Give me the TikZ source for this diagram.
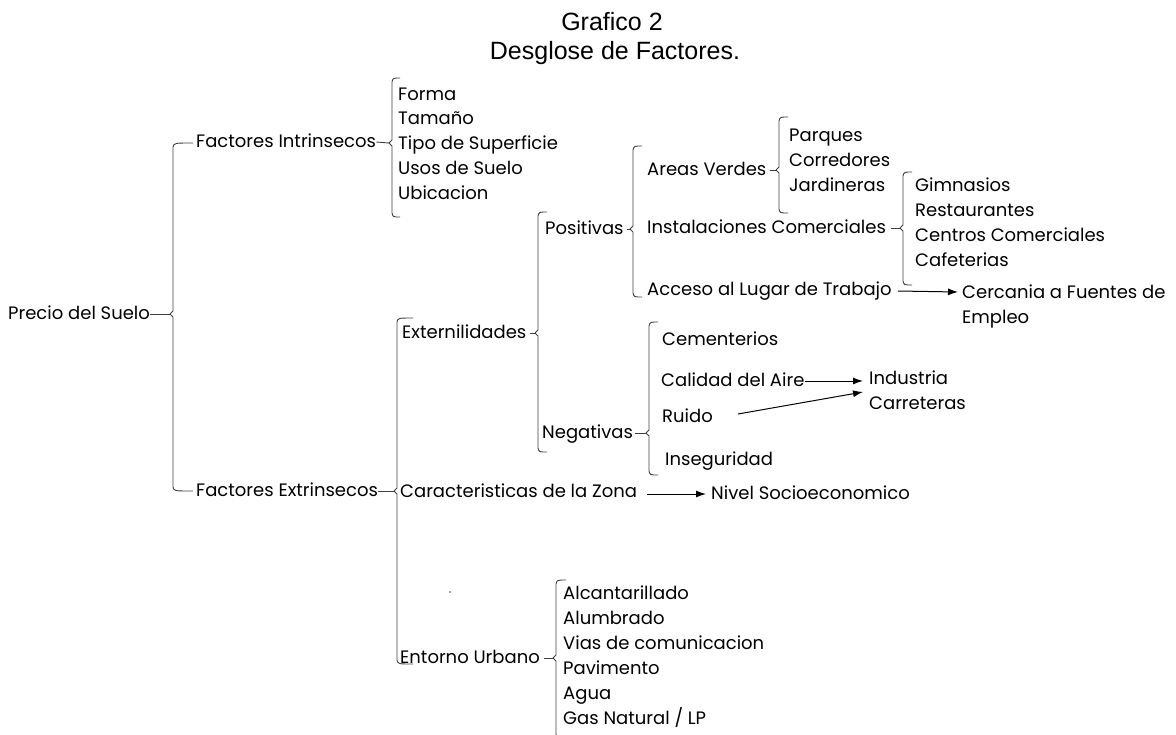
\documentclass[tikz,border=0pt]{standalone}
\usepackage{fontspec}
\setmainfont{Poppins}
\newfontfamily\titlefont{Liberation Sans}
\usetikzlibrary{arrows.meta}
\tikzset{
  lbl/.style={anchor=west, inner sep=0pt, text height=14pt, text depth=4pt, font=\fontsize{18}{22}\selectfont, text=black},
  ttl/.style={inner sep=0pt, font=\titlefont\fontsize{25}{28}\selectfont, text height=18pt, text depth=0pt, anchor=base},
  brk/.style={draw=black!75, line width=0.9pt, line join=round},
  conn/.style={draw=black!75, line width=0.9pt},
  arr/.style={draw=black, line width=1pt, -{Latex[length=10pt,width=7pt]}}
}
% brace: #1 name, #2 x, #3 top, #4 cusp, #5 bottom, #6 tick length
\newcommand{\mybrk}[6]{%
  \draw[brk] ({#2+#6},#3) .. controls ({#2+1},#3) .. ({#2},{#3+4}) -- ({#2},{#4-3}) -- ({#2-3},{#4}) -- ({#2},{#4+3}) -- ({#2},{#5-4}) .. controls ({#2+1},#5) .. ({#2+#6},#5);
  \coordinate (#1) at ({#2-3},{#4});
}
\begin{document}
\begin{tikzpicture}[x=1pt,y=-1pt]
\useasboundingbox (0,0) rectangle (1176,734);
% title
\node[ttl] (t1) at (612,30) {Grafico 2};
\node[ttl] (t2) at (615,59) {Desglose de Factores.};
% level 0/1
\node[lbl] (prec) at (8,314) {Precio del Suelo};
\node[lbl] (fi) at (196,142) {Factores Intrinsecos};
\node[lbl] (fe) at (196,491) {Factores Extrinsecos};
\mybrk{b0}{173}{143}{314}{491}{20}
\draw[conn] (prec.east) -- (b0);
% intrinsecos
\mybrk{b1}{392}{78}{143}{217}{8}
\draw[conn] (fi.east) -- (b1);
\node[lbl] (forma) at (398,95) {Forma};
\node[lbl] (tam) at (398,119) {Tamaño};
\node[lbl] (tipo) at (398,144) {Tipo de Superficie};
\node[lbl] (usos) at (398,169) {Usos de Suelo};
\node[lbl] (ubic) at (398,194) {Ubicacion};
% extrinsecos
\mybrk{b2}{397}{318}{491}{664}{16}
\draw[conn] (fe.east) -- (b2);
\node[lbl] (ext) at (402,333) {Externilidades};
\node[lbl] (car) at (400,492) {Caracteristicas de la Zona};
\node[lbl] (ent) at (400,658) {Entorno Urbano};
% externalidades
\mybrk{b3}{538}{212}{333}{452}{9}
\draw[conn] ([xshift=3pt]ext.east) -- (b3);
\node[lbl] (pos) at (545,229) {Positivas};
\node[lbl] (neg) at (542,433) {Negativas};
% positivas
\mybrk{b4}{633}{146}{229}{297}{9}
\draw[conn] ([xshift=3pt]pos.east) -- (b4);
\node[lbl] (av) at (647,170) {Areas Verdes};
\node[lbl] (ic) at (647,228) {Instalaciones Comerciales};
\node[lbl] (acc) at (647,290) {Acceso al Lugar de Trabajo};
\mybrk{b5}{779}{117}{170}{213}{9}
\draw[conn] ([xshift=3pt]av.east) -- (b5);
\node[lbl] (par) at (789,136) {Parques};
\node[lbl] (cor) at (789,161) {Corredores};
\node[lbl] (jar) at (789,186) {Jardineras};
\mybrk{b6}{903}{172}{228}{285}{9}
\draw[conn] ([xshift=5pt]ic.east) -- (b6);
\node[lbl] (gim) at (915,186) {Gimnasios};
\node[lbl] (res) at (915,211) {Restaurantes};
\node[lbl] (cen) at (915,236) {Centros Comerciales};
\node[lbl] (caf) at (915,261) {Cafeterias};
\node[lbl] (cer) at (962,293) {Cercania a Fuentes de};
\node[lbl] (emp) at (962,318) {Empleo};
\draw[arr] ([xshift=6pt,yshift=-1pt]acc.east) -- ([xshift=-4pt,yshift=1pt]cer.west);
% negativas
\mybrk{b7}{649}{322}{433}{475}{9}
\draw[conn] ([xshift=2pt]neg.east) -- (b7);
\node[lbl] (cem) at (662,340) {Cementerios};
\node[lbl] (cal) at (661,381) {Calidad del Aire};
\node[lbl] (rui) at (662,417) {Ruido};
\node[lbl] (ins) at (665,460) {Inseguridad};
\node[lbl] (ind) at (869,379) {Industria};
\node[lbl] (carr) at (869,404) {Carreteras};
\draw[arr] (cal.east) -- ([xshift=-6pt,yshift=-2pt]ind.west);
\draw[arr] ([xshift=25pt,yshift=3pt]rui.east) -- ([xshift=-6pt,yshift=12pt]carr.west);
% zona
\node[lbl] (niv) at (711,494) {Nivel Socioeconomico};
\draw[arr] ([xshift=10pt,yshift=-2pt]car.east) -- ([xshift=-5pt]niv.west);
% entorno urbano
\mybrk{b8}{556}{580}{658}{738}{10}
\draw[conn] ([xshift=4pt]ent.east) -- (b8);
\node[lbl] (alc) at (563,594) {Alcantarillado};
\node[lbl] (alu) at (563,619) {Alumbrado};
\node[lbl] (vias) at (563,644) {Vias de comunicacion};
\node[lbl] (pav) at (563,669) {Pavimento};
\node[lbl] (agua) at (563,694) {Agua};
\node[lbl] (gas) at (563,719) {Gas Natural / LP};
% stray dot
\fill[black!70] (450,592) circle (0.9);
\end{tikzpicture}
\end{document}
